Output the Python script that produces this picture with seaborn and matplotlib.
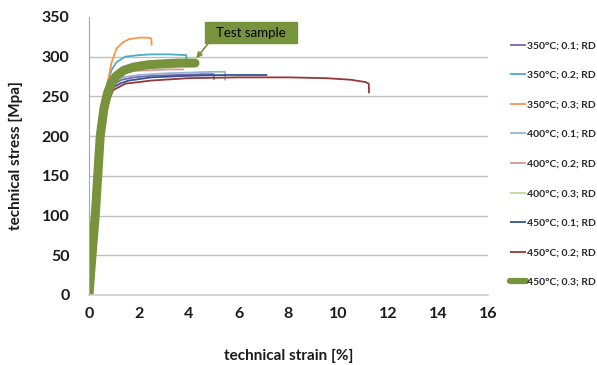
import pandas as pd
import matplotlib
matplotlib.use('Agg')
import matplotlib.pyplot as plt
from matplotlib.patches import Rectangle
import seaborn as sns

sns.set_style('white')
plt.rcParams['font.family'] = ['Lato', 'DejaVu Sans']

# series data (strain in %, stress in MPa)
labels = ['350°C; 0.1; RD', '350°C; 0.2; RD', '350°C; 0.3; RD',
          '400°C; 0.1; RD', '400°C; 0.2; RD', '400°C; 0.3; RD',
          '450°C; 0.1; RD', '450°C; 0.2; RD', '450°C; 0.3; RD']
colors = ['#8064A2', '#4BACC6', '#F79646',
          '#95B3D7', '#D99694', '#C3D69B',
          '#2F5597', '#953735', '#77933C']

strain_350_01 = [0, 0.15, 0.3, 0.45, 0.6, 0.8, 1.0, 1.3, 1.8, 2.5, 3.5, 4.5, 5.0, 5.01]
stress_350_01 = [0, 60, 120, 180, 225, 252, 265, 271, 274, 276, 277, 278, 278, 271]
strain_350_02 = [0, 0.15, 0.3, 0.45, 0.6, 0.75, 0.9, 1.1, 1.45, 2.0, 2.5, 3.2, 3.9, 3.91]
stress_350_02 = [0, 60, 120, 180, 230, 265, 283, 293, 300, 302, 303, 303, 302, 297]
strain_350_03 = [0, 0.15, 0.3, 0.45, 0.6, 0.75, 0.9, 1.1, 1.35, 1.6, 2.0, 2.35, 2.5, 2.51]
stress_350_03 = [0, 60, 120, 180, 230, 268, 292, 310, 318, 322, 324, 324, 323, 314]
strain_400_01 = [0, 0.15, 0.3, 0.45, 0.6, 0.8, 1.0, 1.3, 2.0, 3.0, 4.0, 5.0, 5.45, 5.46]
stress_400_01 = [0, 60, 120, 180, 228, 256, 267, 274, 277, 279, 280, 281, 281, 270]
strain_400_02 = [0, 0.15, 0.3, 0.45, 0.6, 0.8, 1.0, 1.25, 1.7, 2.5, 3.2, 3.8]
stress_400_02 = [0, 60, 120, 180, 228, 258, 271, 279, 282, 283, 284, 284]
strain_400_03 = [0, 0.15, 0.3, 0.45, 0.6, 0.8, 1.0, 1.4, 2.0, 3.0, 3.9]
stress_400_03 = [0, 60, 120, 180, 230, 260, 274, 283, 287, 289, 290]
strain_450_01 = [0, 0.15, 0.3, 0.45, 0.6, 0.8, 1.0, 1.3, 1.6, 2.5, 4.0, 5.5, 7.15]
stress_450_01 = [0, 60, 120, 180, 225, 250, 262, 267, 270, 274, 276, 277, 277]
strain_450_02 = [0, 0.15, 0.3, 0.45, 0.6, 0.8, 0.97, 1.45, 2.5, 4.0, 6.0, 8.0, 9.5, 10.5, 11.1, 11.22, 11.23]
stress_450_02 = [0, 60, 120, 180, 220, 245, 258, 266, 270, 273, 274, 274, 273, 271, 268, 266, 254]
strain_450_03 = [0, 0.12, 0.25, 0.35, 0.45, 0.6, 0.75, 0.9, 1.1, 1.4, 1.8, 2.4, 3.0, 3.6, 4.25]
stress_450_03 = [0, 50, 100, 150, 200, 235, 255, 267, 276, 283, 287, 290, 291, 292, 292]

strains = [strain_350_01, strain_350_02, strain_350_03, strain_400_01, strain_400_02,
           strain_400_03, strain_450_01, strain_450_02, strain_450_03]
stresses = [stress_350_01, stress_350_02, stress_350_03, stress_400_01, stress_400_02,
            stress_400_03, stress_450_01, stress_450_02, stress_450_03]

x_ticks = [0, 2, 4, 6, 8, 10, 12, 14, 16]
y_ticks = [0, 50, 100, 150, 200, 250, 300, 350]

fig = plt.figure(figsize=(5.97, 3.65), dpi=100)
ax = fig.add_axes([89/597, 1-295/365, 399/597, 278/365])

for i in range(len(labels)):
  df = pd.DataFrame({'strain': strains[i], 'stress': stresses[i]})
  lw = 6.5 if i == 8 else 1.3
  sns.lineplot(data=df, x='strain', y='stress', sort=False, estimator=None,
               color=colors[i], lw=lw, label=labels[i], ax=ax,
               solid_capstyle='round' if i == 8 else 'butt')

ax.set_xlim(0, 16)
ax.set_ylim(0, 350)
ax.set_xticks(x_ticks)
ax.set_yticks(y_ticks)
ax.tick_params(axis='both', length=0, labelsize=11.5, labelcolor='#1a1a1a')
ax.tick_params(axis='y', pad=14)
ax.tick_params(axis='x', pad=9)
for t in ax.get_xticklabels() + ax.get_yticklabels():
  t.set_fontweight('bold')

ax.yaxis.grid(True, color='#BFBFBF', lw=1)
ax.xaxis.grid(False)
ax.set_axisbelow(True)
gl = ax.get_ygridlines()
gl[-1].set_visible(False)
gl[0].set_visible(False)
for s in ['top', 'right']:
  ax.spines[s].set_visible(False)
ax.spines['left'].set_color('#A6A6A6')
ax.spines['bottom'].set_color('#D0D0D0')
ax.spines['bottom'].set_linewidth(1.2)

ax.set_xlabel('technical strain [%]', fontsize=11, fontweight='bold', color='#1a1a1a')
ax.xaxis.set_label_coords(0.5, -0.195)
ax.set_ylabel('technical stress [Mpa]', fontsize=11, fontweight='bold', color='#1a1a1a')
ax.yaxis.set_label_coords(-0.165, 0.5)

leg = ax.legend(loc='center left', bbox_to_anchor=(510/597, 1-164/365),
                bbox_transform=fig.transFigure, frameon=False, borderaxespad=0,
                borderpad=0, labelspacing=1.95, handlelength=1.5,
                handletextpad=0.1, prop={'weight': 'bold', 'size': 7.5})
for h in leg.get_lines()[:8]:
  h.set_linewidth(1.3)
leg.get_lines()[8].set_linewidth(4.5)

# "Test sample" callout
ax.add_patch(Rectangle((0.291, 0.906), 0.23, 0.076, transform=ax.transAxes,
                       facecolor='#77933C', edgecolor='#77933C', clip_on=False, zorder=5))
ax.text(0.406, 0.944, 'Test sample', transform=ax.transAxes, fontsize=9.5,
        ha='center', va='center', color='black', zorder=6)
ax.annotate('', xy=(4.3, 298), xytext=(5.35, 339),
            arrowprops=dict(arrowstyle='-|>', color='#77933C', lw=1.2,
                            mutation_scale=8, shrinkA=0, shrinkB=0))

fig.savefig('out.png', dpi=100)
plt.close()
